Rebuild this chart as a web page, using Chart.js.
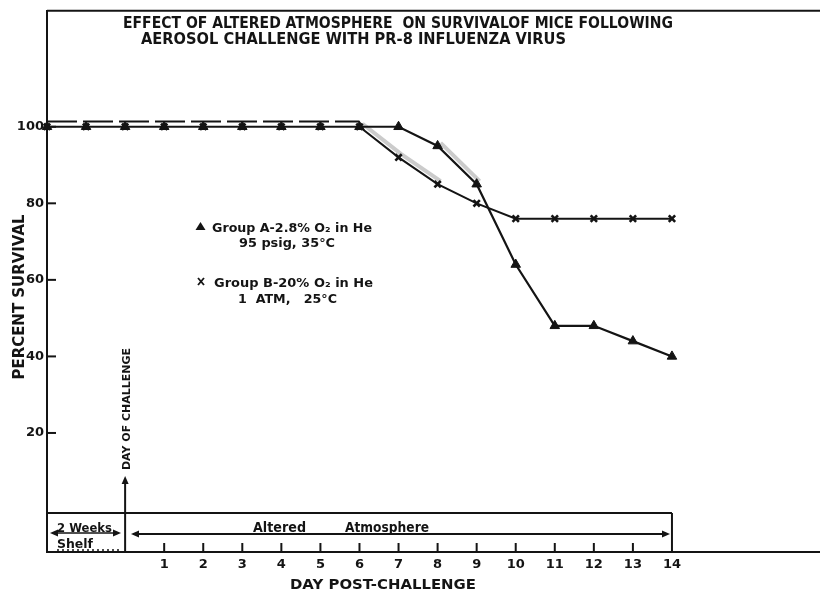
<!DOCTYPE html>
<html>
<head>
<meta charset="utf-8">
<script src="https://cdn.jsdelivr.net/npm/chart.js@4/dist/chart.umd.min.js"></script>
<style>
  html, body { margin: 0; padding: 0; background: #fff; }
  #wrap { width: 820px; height: 594px; }
</style>
</head>
<body>
<div id="wrap"><canvas id="survivalChart" width="820" height="594"></canvas></div>
<script>
// values
const days = [-2, -1, 0, 1, 2, 3, 4, 5, 6, 7, 8, 9, 10, 11, 12, 13, 14];
const groupA = [100, 100, 100, 100, 100, 100, 100, 100, 100, 100, 95, 85, 64, 48, 48, 44, 40];
const groupB = [100, 100, 100, 100, 100, 100, 100, 100, 100, 92, 85, 80, 76, 76, 76, 76, 76];
// group B is drawn as a dashed line just above 100 until day 6
const groupBFlatDays = [-2, -1, 0, 1, 2, 3, 4, 5, 6];
const groupBFlatDrawn = [101.4, 101.4, 101.4, 101.4, 101.4, 101.4, 101.4, 101.4, 101.4];
const yTickValues = [20, 40, 60, 80, 100];
const xTickValues = [1, 2, 3, 4, 5, 6, 7, 8, 9, 10, 11, 12, 13, 14];

const INK = '#141414';
const SHADE = 'rgba(140,140,140,0.45)';
const FONT = '"DejaVu Sans"';

function toPoints(xs, ys) {
    return xs.map((x, i) => ({ x: x, y: ys[i] }));
}

// draw text centred on x, sitting on baseline y, squeezed to a given width
function fitText(ctx, text, cx, baseY, width, size, weight, rotate) {
    ctx.save();
    ctx.font = `${weight} ${size}px ${FONT}`;
    const w = ctx.measureText(text).width;
    ctx.translate(cx, baseY);
    if (rotate) ctx.rotate(rotate);
    ctx.scale(width / w, 1);
    ctx.textAlign = 'center';
    ctx.textBaseline = 'alphabetic';
    ctx.fillStyle = INK;
    ctx.fillText(text, 0, 0);
    ctx.restore();
}

function line(ctx, x1, y1, x2, y2, w) {
    ctx.lineWidth = w || 2;
    ctx.beginPath();
    ctx.moveTo(x1, y1);
    ctx.lineTo(x2, y2);
    ctx.stroke();
}

function arrowHead(ctx, x, y, dir) {
    // dir: 'left', 'right', 'up'
    ctx.beginPath();
    if (dir === 'right') { ctx.moveTo(x, y); ctx.lineTo(x - 8, y - 3.5); ctx.lineTo(x - 8, y + 3.5); }
    if (dir === 'left') { ctx.moveTo(x, y); ctx.lineTo(x + 8, y - 3.5); ctx.lineTo(x + 8, y + 3.5); }
    if (dir === 'up') { ctx.moveTo(x, y); ctx.lineTo(x - 3.5, y + 8); ctx.lineTo(x + 3.5, y + 8); }
    ctx.closePath();
    ctx.fill();
}

const shadeOffset = {
    id: 'shadeOffset',
    beforeDatasetDraw(chart, args) {
        if (chart.data.datasets[args.index].shade) {
            chart.ctx.save();
            chart.ctx.translate(3, -3);
        }
    },
    afterDatasetDraw(chart, args) {
        if (chart.data.datasets[args.index].shade) chart.ctx.restore();
    }
};

const decorations = {
    id: 'decorations',
    beforeDraw(chart) {
        const ctx = chart.ctx;
        ctx.save();
        ctx.fillStyle = '#fff';
        ctx.fillRect(0, 0, chart.width, chart.height);
        ctx.restore();
    },
    afterDraw(chart) {
        const ctx = chart.ctx;
        const area = chart.chartArea;
        const xs = chart.scales.x;
        const ys = chart.scales.y;
        ctx.save();
        ctx.strokeStyle = INK;
        ctx.fillStyle = INK;

        // top frame
        line(ctx, area.left, area.top, area.right, area.top, 2);

        // y tick marks, inside the axis
        yTickValues.forEach(v => {
            const py = ys.getPixelForValue(v);
            line(ctx, area.left, py, area.left + 9, py, 2);
        });

        // time-line box under the curves
        const boxTop = area.bottom - 39;
        const x0 = xs.getPixelForValue(0);
        const x14 = xs.getPixelForValue(14);
        line(ctx, area.left, boxTop, x14, boxTop, 2);
        line(ctx, x14, boxTop, x14, area.bottom, 2);
        line(ctx, x0, boxTop, x0, area.bottom, 2);

        // day ticks inside the box
        xTickValues.forEach(d => {
            if (d === 14) return;
            const px = xs.getPixelForValue(d);
            line(ctx, px, area.bottom - 9, px, area.bottom, 2);
        });

        // day of challenge arrow
        line(ctx, x0, boxTop, x0, 484, 2);
        arrowHead(ctx, x0, 476, 'up');
        fitText(ctx, 'DAY OF CHALLENGE', 129.5, 409, 122, 10.5, 'bold', -Math.PI / 2);

        // 2 weeks shelf
        line(ctx, 53, 533, 118, 533, 1.5);
        arrowHead(ctx, 50, 533, 'left');
        arrowHead(ctx, 121, 533, 'right');
        fitText(ctx, '2 Weeks', 84.5, 532, 55, 13, 'bold');
        fitText(ctx, 'Shelf', 75, 548, 36, 13, 'bold');
        ctx.save();
        ctx.setLineDash([2, 3]);
        line(ctx, 57, 550, 120, 550, 1.5);
        ctx.restore();

        // altered atmosphere
        line(ctx, 133, 534, 664, 534, 1.8);
        arrowHead(ctx, 131, 534, 'left');
        arrowHead(ctx, 670, 534, 'right');
        fitText(ctx, 'Altered', 279.5, 532, 53, 13.5, 'bold');
        fitText(ctx, 'Atmosphere', 387, 532, 84, 13.5, 'bold');

        // axis titles
        fitText(ctx, 'DAY POST-CHALLENGE', 383, 589, 186, 14, 'bold');
        fitText(ctx, 'PERCENT SURVIVAL', 23.5, 297, 165, 15, 'bold', -Math.PI / 2);

        // chart title
        fitText(ctx, 'EFFECT OF ALTERED ATMOSPHERE  ON SURVIVALOF MICE FOLLOWING', 398, 27.5, 550, 15, 'bold');
        fitText(ctx, 'AEROSOL CHALLENGE WITH PR-8 INFLUENZA VIRUS', 353.5, 43.5, 425, 15, 'bold');

        // legend
        ctx.beginPath();
        ctx.moveTo(200.5, 222);
        ctx.lineTo(205.5, 230);
        ctx.lineTo(195.5, 230);
        ctx.closePath();
        ctx.fill();
        fitText(ctx, 'Group A-2.8% O\u2082 in He', 292, 231.5, 160, 13, 'bold');
        fitText(ctx, '95 psig, 35\u00b0C', 287, 246.5, 96, 13, 'bold');
        line(ctx, 198, 278, 204, 285, 1.8);
        line(ctx, 204, 278, 198, 285, 1.8);
        fitText(ctx, 'Group B-20% O\u2082 in He', 293.5, 287, 159, 13, 'bold');
        fitText(ctx, '1  ATM,   25\u00b0C', 287.5, 302.5, 99, 13, 'bold');

        ctx.restore();
    }
};

function shadeSegment(from) {
    return ctx => from.indexOf(ctx.p0.parsed.x) >= 0 ? SHADE : 'rgba(0,0,0,0)';
}

const chart = new Chart('survivalChart', {
    type: 'line',
    data: {
        datasets: [{
            label: 'Group A-2.8% O2 in He',
            data: toPoints(days, groupA),
            borderColor: INK,
            borderWidth: 2.2,
            pointStyle: 'triangle',
            pointRadius: 5.5,
            pointBackgroundColor: INK,
            pointBorderColor: INK,
            pointBorderWidth: 1,
            clip: false,
            order: 1
        }, {
            label: 'Group B-20% O2 in He',
            data: toPoints(days, groupB),
            borderColor: INK,
            borderWidth: 2,
            segment: {
                borderColor: ctx => ctx.p0.parsed.x < 6 ? 'rgba(0,0,0,0)' : INK
            },
            pointStyle: 'crossRot',
            pointRadius: 4.5,
            pointBorderColor: INK,
            pointBorderWidth: 2.6,
            clip: false,
            order: 0
        }, {
            label: 'Group B (drawn above 100)',
            data: toPoints(groupBFlatDays, groupBFlatDrawn),
            borderColor: INK,
            borderWidth: 2,
            borderDash: [30, 6],
            pointRadius: 0,
            clip: false,
            order: 2
        }, {
            label: 'shade A',
            shade: true,
            data: toPoints(days, groupA),
            borderWidth: 4,
            segment: { borderColor: shadeSegment([8]) },
            pointRadius: 0,
            clip: false,
            order: 5
        }, {
            label: 'shade B',
            shade: true,
            data: toPoints(days, groupB),
            borderWidth: 4,
            segment: { borderColor: shadeSegment([6, 7]) },
            pointRadius: 0,
            clip: false,
            order: 5
        }]
    },
    options: {
        responsive: false,
        devicePixelRatio: 1,
        animation: false,
        layout: { autoPadding: false, padding: { top: 10, left: 0, right: 0, bottom: 0 } },
        plugins: {
            legend: { display: false },
            tooltip: { enabled: false }
        },
        scales: {
            x: {
                type: 'linear',
                min: -2,
                max: 17.79,
                afterFit: scale => { scale.height = 42; },
                afterBuildTicks: scale => { scale.ticks = xTickValues.map(v => ({ value: v })); },
                grid: { display: true, drawOnChartArea: false, drawTicks: false },
                border: { display: true, color: INK, width: 2 },
                ticks: {
                    color: INK,
                    padding: 5,
                    maxRotation: 0,
                    autoSkip: false,
                    font: { family: 'DejaVu Sans', weight: 'bold', size: 13 }
                }
            },
            y: {
                type: 'linear',
                min: -11.1,
                max: 130.3,
                afterFit: scale => { scale.width = 47; },
                afterBuildTicks: scale => { scale.ticks = yTickValues.map(v => ({ value: v })); },
                grid: { display: true, drawOnChartArea: false, drawTicks: false },
                border: { display: true, color: INK, width: 2 },
                ticks: {
                    color: INK,
                    padding: 3,
                    font: { family: 'DejaVu Sans', weight: 'bold', size: 13 }
                }
            }
        }
    },
    plugins: [shadeOffset, decorations]
});
</script>
</body>
</html>
